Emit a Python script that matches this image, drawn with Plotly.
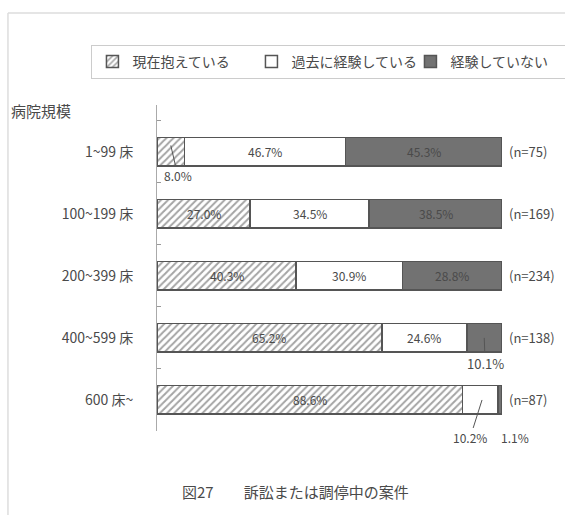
import plotly.graph_objects as go

categories = ["1~99 床", "100~199 床", "200~399 床", "400~599 床", "600 床~"]
current = [8.0, 27.0, 40.3, 65.2, 88.6]
past = [46.7, 34.5, 30.9, 24.6, 10.2]
never = [45.3, 38.5, 28.8, 10.1, 1.1]
n_labels = ["(n=75)", "(n=169)", "(n=234)", "(n=138)", "(n=87)"]
series_names = ["現在抱えている", "過去に経験している", "経験していない"]

FONT = "Noto Sans CJK JP"
TXT = "#4a4a4a"
EDGE = "#555555"

fig = go.Figure()
fig.add_trace(go.Bar(
    y=categories, x=current, orientation="h", name=series_names[0],
    marker=dict(color="white", line=dict(color=EDGE, width=1.5),
                pattern=dict(shape="/", fgcolor="#4a4a4a", bgcolor="white", size=5, solidity=0.4)),
    width=0.46, hoverinfo="skip"))
fig.add_trace(go.Bar(
    y=categories, x=past, orientation="h", name=series_names[1],
    marker=dict(color="white", line=dict(color=EDGE, width=1.5)),
    width=0.46, hoverinfo="skip"))
fig.add_trace(go.Bar(
    y=categories, x=never, orientation="h", name=series_names[2],
    marker=dict(color="#727272", line=dict(color=EDGE, width=1.5)),
    width=0.46, hoverinfo="skip"))

annotations = []
small = 12
for i, cat in enumerate(categories):
    segs = [current[i], past[i], never[i]]
    start = 0
    for j, v in enumerate(segs):
        center = start + v / 2
        if v >= 15:
            annotations.append(dict(x=center, y=i, xref="x", yref="y", text=f"{v:.1f}%",
                                    showarrow=False, font=dict(family=FONT, size=small, color=TXT)))
        start += v
    annotations.append(dict(x=1, y=i, xref="paper", yref="y", text=n_labels[i], xanchor="left",
                            xshift=5, showarrow=False, font=dict(family=FONT, size=13, color=TXT)))

# small-value labels with leader lines
annotations.append(dict(x=current[0] / 2, y=-0.1, xref="x", yref="y", text=f"{current[0]:.1f}%",
                        showarrow=True, arrowhead=0, arrowwidth=1, arrowcolor="#555", ax=7, ay=30,
                        font=dict(family=FONT, size=small, color=TXT)))
annotations.append(dict(x=current[3] + past[3] + never[3] / 2, y=3, xref="x", yref="y",
                        text=f"{never[3]:.1f}%", showarrow=True, arrowhead=0, arrowwidth=1,
                        arrowcolor="#555", ax=1, ay=26, font=dict(family=FONT, size=13, color=TXT)))
annotations.append(dict(x=current[4] + past[4] * 0.55, y=4.0, xref="x", yref="y",
                        text=f"{past[4]:.1f}%", showarrow=True, arrowhead=0, arrowwidth=1,
                        arrowcolor="#555", ax=-12, ay=38, font=dict(family=FONT, size=small, color=TXT)))
annotations.append(dict(x=current[4] + past[4] + never[4] / 2, y=4, xref="x", yref="y",
                        text=f"{never[4]:.1f}%", showarrow=False, xshift=15, yshift=-38,
                        font=dict(family=FONT, size=small, color=TXT)))

annotations.append(dict(x=-0.43, y=1.0, xref="paper", yref="paper", text="病院規模",
                        xanchor="left", yanchor="bottom", yshift=-18, showarrow=False,
                        font=dict(family=FONT, size=15, color=TXT)))
annotations.append(dict(x=0.40, y=-0.187, xref="paper", yref="paper",
                        text="図27　　訴訟または調停中の案件", xanchor="center", yanchor="middle",
                        showarrow=False, font=dict(family=FONT, size=15, color=TXT)))

shapes = [
    dict(type="line", xref="paper", yref="paper", x0=-0.432, x1=1.2, y0=1.282, y1=1.282,
         line=dict(color="#dddddd", width=1.5)),
    dict(type="line", xref="paper", yref="paper", x0=-0.432, x1=-0.432, y0=1.282, y1=-0.3,
         line=dict(color="#dddddd", width=1.5)),
]

fig.update_layout(
    width=565, height=515, barmode="stack",
    margin=dict(l=157, r=63, t=105, b=84, autoexpand=False),
    paper_bgcolor="white", plot_bgcolor="white",
    font=dict(family=FONT, color=TXT),
    showlegend=True,
    legend=dict(orientation="h", x=-0.19, xanchor="left", y=1.184, yanchor="top",
                bordercolor="#cccccc", borderwidth=1, font=dict(family=FONT, size=14, color=TXT),
                itemwidth=30, traceorder="normal", tracegroupgap=0,
                entrywidth=114, entrywidthmode="pixels"),
    xaxis=dict(range=[0, 100], visible=False, fixedrange=True),
    yaxis=dict(type="category", autorange="reversed", showline=True, linecolor="#aaaaaa",
               linewidth=1, ticks="inside", tickson="boundaries", ticklen=4, tickcolor="#999",
               ticklabelstandoff=20, tickfont=dict(family=FONT, size=14, color=TXT),
               showgrid=False, zeroline=False, fixedrange=True),
    annotations=annotations, shapes=shapes,
)

fig.write_html("out.html")
